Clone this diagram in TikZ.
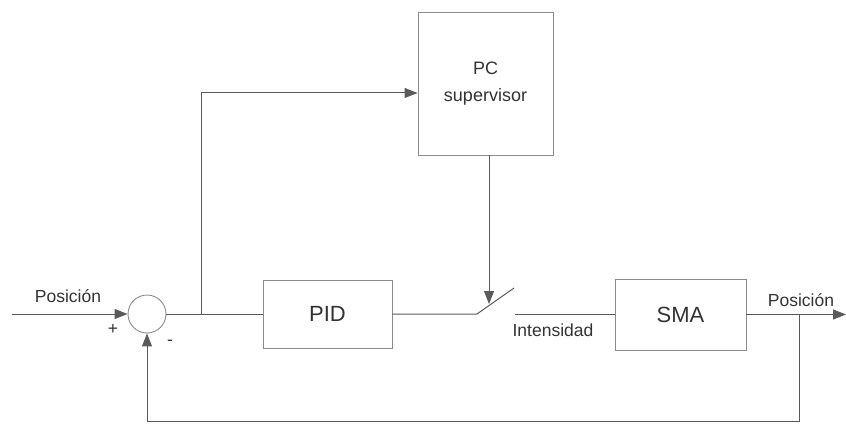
\documentclass[tikz,border=0pt]{standalone}
\usepackage{fontspec}
\setmainfont{Liberation Sans}
\usetikzlibrary{arrows.meta}
\definecolor{linegray}{HTML}{5A5A5A}
\definecolor{boxgray}{HTML}{8C8C8C}
\definecolor{textgray}{HTML}{333333}
\begin{document}
\begin{tikzpicture}[
        x=1pt, y=-1pt,
        every node/.style={text=textgray},
        wire/.style={draw=linegray, line width=1pt},
        arrow/.style={wire, -{Triangle[length=13pt, width=10pt]}},
        blockbox/.style={draw=boxgray, line width=0.9pt, fill=white, font=\fontsize{22}{24}\selectfont},
        sumnode/.style={circle, draw=boxgray, line width=0.9pt, minimum size=38pt, inner sep=0pt},
        lbl/.style={font=\fontsize{17.5}{21}\selectfont, inner sep=0pt}
    ]
    \useasboundingbox (0,0) rectangle (846,425);
    % blocks
    \node[sumnode] (sum) at (147,314) {};
    \node[blockbox, minimum width=129pt, minimum height=68pt] (pid) at (327.5,314) {PID};
    \node[blockbox, minimum width=135pt, minimum height=143pt, align=center,
          font=\fontsize{18}{27}\selectfont] (pc) at (485.5,83.5) {PC\\supervisor};
    \node[blockbox, minimum width=131pt, minimum height=71pt] (sma) at (680.5,314.5) {SMA};
    % helper points
    \coordinate (in) at (12,314);
    \coordinate (br) at (201,314);
    \coordinate (top) at (201,93);
    \coordinate (sw1) at (477,314);
    \coordinate (sw2) at (514,288);
    \coordinate (so) at (515,314.5);
    \coordinate (fb) at (799,314.5);
    \coordinate (out) at (846,314.5);
    \coordinate (bot) at (799,421);
    % connectors
    \draw[arrow] (in) -- (sum.west);
    \draw[wire] (sum.east) -- (pid.west);
    \draw[arrow] (br) -- (top) -- (pc.west |- top);
    \draw[wire] (pid.east) -- (sw1) -- (sw2);
    \draw[arrow] (489,155) -- (489,304);
    \draw[wire] (so) -- (sma.west);
    \draw[arrow] (sma.east) -- (out);
    \draw[arrow] (fb) -- (bot) -| (sum.south);
    % labels
    \node[lbl] (lin) at (68,296) {Posición};
    \node[lbl] (lplus) at (113,329) {+};
    \node[lbl] (lminus) at (170,343) {-};
    \node[lbl] (lint) at (553,330) {Intensidad};
    \node[lbl] (lout) at (801,300) {Posición};
\end{tikzpicture}
\end{document}
